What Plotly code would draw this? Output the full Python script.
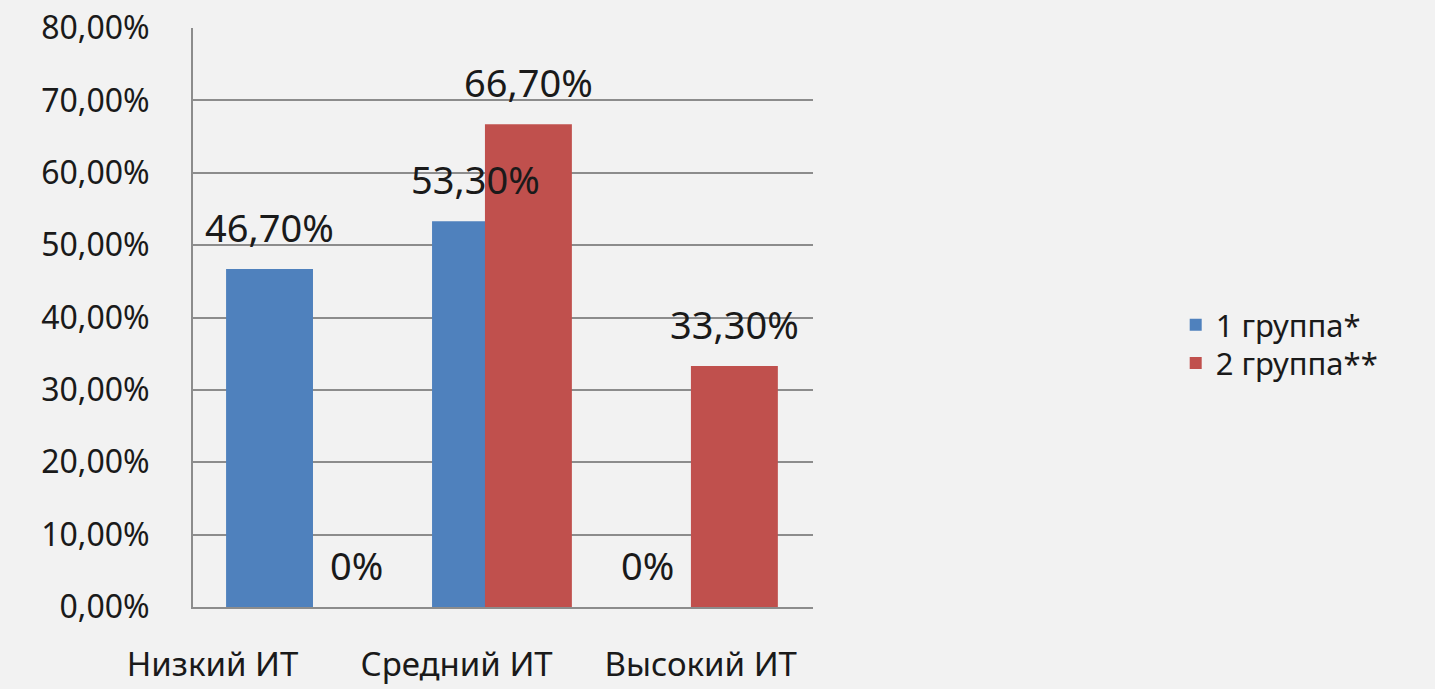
import plotly.graph_objects as go

categories = ["Низкий ИТ", "Средний ИТ", "Высокий ИТ"]
group1 = [0.467, 0.533, 0.0]
group2 = [0.0, 0.667, 0.333]
series_names = ["1 группа*", "2 группа**"]
colors = ["#4f81bd", "#c0504d"]
y_ticks = [0, 0.1, 0.2, 0.3, 0.4, 0.5, 0.6, 0.7, 0.8]

FONT = "Noto Sans"
BG = "#f2f2f2"
TXT = "#1a1a1a"

BAR_W = 0.46
offsets = [[-0.46, -0.37, -0.46], [0.0, -0.09, 0.0]]
legends = ["legend", "legend2"]

def fmt(v):
    return "0%" if v == 0 else f"{v*100:.2f}%".replace(".", ",")

fig = go.Figure()
for name, vals, col, off, lg in zip(series_names, [group1, group2], colors, offsets, legends):
    fig.add_trace(go.Bar(x=categories, y=vals, name=name, width=BAR_W, offset=off,
                         marker=dict(color=col, line=dict(width=0)), legend=lg,
                         xaxis="x", yaxis="y"))

# invisible helper trace for category label axis
fig.add_trace(go.Scatter(x=[0, 1, 2], y=[None, None, None], xaxis="x2", yaxis="y",
                         showlegend=False, hoverinfo="skip", mode="markers"))

PX_PER_UNIT = 189
annotations = []
for vals, off in zip([group1, group2], offsets):
    for c, v, o in zip(categories, vals, off):
        annotations.append(dict(x=c, y=v, xref="x", yref="y", text=fmt(v), showarrow=False,
                                xshift=(o + BAR_W / 2) * PX_PER_UNIT, yshift=14, yanchor="bottom",
                                font=dict(family=FONT, size=38, color=TXT)))

leg_common = dict(xanchor="left", yanchor="middle", bgcolor="rgba(0,0,0,0)",
                  font=dict(family=FONT, size=31, color=TXT), itemwidth=30)

fig.update_layout(
    width=1435, height=689,
    margin=dict(l=193, r=622, t=28, b=82),
    paper_bgcolor=BG, plot_bgcolor=BG,
    barmode="group",
    separators=", ",
    font=dict(family=FONT, color=TXT),
    annotations=annotations,
    showlegend=True,
    legend=dict(x=1.585, y=0.487, **leg_common),
    legend2=dict(x=1.585, y=0.421, **leg_common),
    xaxis=dict(range=[-0.635, 2.646], showticklabels=False, showgrid=False, automargin=False,
               showline=True, linecolor="#8c8c8c", linewidth=2, zeroline=False, ticks=""),
    xaxis2=dict(overlaying="x", anchor="y", side="bottom", range=[-0.08, 2.46], automargin=False,
                tickvals=[0, 1, 2], ticktext=categories, showgrid=False, showline=False,
                zeroline=False, ticks="", ticklabelstandoff=35,
                tickfont=dict(family=FONT, size=33, color=TXT)),
    yaxis=dict(range=[0, 0.8], tickvals=y_ticks, tickformat=".2%", showgrid=True, automargin=False,
               gridcolor="#8c8c8c", gridwidth=2, showline=True, linecolor="#8c8c8c", linewidth=2,
               zeroline=False, ticks="", ticklabelstandoff=35,
               tickfont=dict(family=FONT, size=32, color=TXT)),
)

fig.write_html("out.html", config={"displayModeBar": False},
               post_script="document.body.style.margin='0';document.body.style.background='#f2f2f2';")
